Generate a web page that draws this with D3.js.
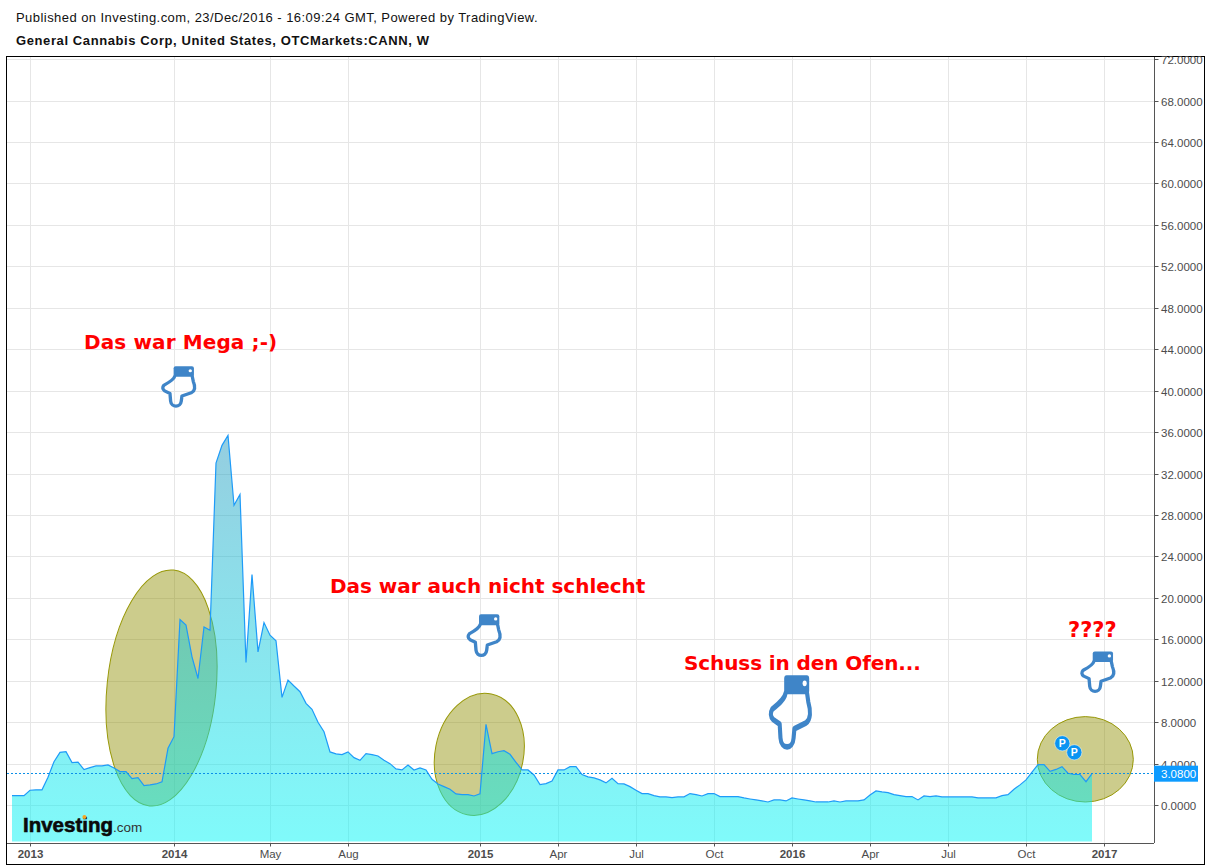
<!DOCTYPE html>
<html><head><meta charset="utf-8">
<script src="https://cdn.jsdelivr.net/npm/d3@7"></script>
<style>
html,body{margin:0;padding:0;background:#fff}
svg{display:block}
text{font-family:"Liberation Sans",Arial,sans-serif}
</style></head><body>
<svg id="c" width="1211" height="867"></svg>
<script>
const headerLine = "Published on Investing.com, 23/Dec/2016 - 16:09:24 GMT, Powered by TradingView.";
const titleLine = "General Cannabis Corp, United States, OTCMarkets:CANN, W";
const closes = [
0.96,0.96,0.96,1.48,1.52,1.52,2.73,4.24,5.14,5.2,4.15,4.2,3.47,3.66,3.83,3.83,3.92,3.63,3.28,3.28,
2.6,2.7,1.93,2.0,2.09,2.3,5.53,6.65,17.96,17.42,14.36,12.27,17.25,16.93,33.06,34.77,35.73,28.98,30.04,13.82,
22.3,14.84,17.67,16.45,15.9,10.45,12.12,11.54,10.99,9.87,9.29,8.04,7.13,5.18,5.0,4.92,5.18,4.63,4.37,5.01,
4.92,4.79,4.37,4.05,3.54,3.44,3.92,3.44,3.63,3.44,2.54,2.09,1.83,1.58,1.13,1.06,1.06,0.93,1.13,7.84,
5.01,5.2,5.3,4.95,4.18,3.44,3.44,2.96,2.02,2.12,2.38,3.44,3.44,3.76,3.76,2.99,2.77,2.67,2.48,2.19,
2.64,2.12,2.09,1.83,1.48,1.16,1.16,0.96,0.84,0.84,0.77,0.84,0.84,1.16,1.06,0.93,1.16,1.16,0.87,0.87,
0.87,0.87,0.74,0.64,0.55,0.45,0.35,0.55,0.55,0.45,0.74,0.64,0.55,0.45,0.35,0.35,0.35,0.45,0.35,0.45,
0.45,0.45,0.55,1.03,1.42,1.32,1.25,1.06,0.96,0.87,0.87,0.55,0.93,0.87,0.93,0.84,0.84,0.84,0.84,0.84,
0.84,0.74,0.74,0.74,0.74,0.96,1.06,1.58,2.0,2.48,3.22,3.95,3.95,3.3,3.49,3.76,3.12,3.0,3.0,2.31,3.08];
const lastPrice = 3.08;
const priceTicks = [72,68,64,60,56,52,48,44,40,36,32,28,24,20,16,12,8,4,0];
const timeTickIdx = [3,27,43,56,78,91,104,117,130,143,156,169,182];
const timeTickLabels = ["2013","2014","May","Aug","2015","Apr","Jul","Oct","2016","Apr","Jul","Oct","2017"];
const yearLabels = ["2013","2014","2015","2016","2017"];
const notes = [
 {t:"Das war Mega ;-)", x:84, y:349, s:20, ls:0.12},
 {t:"Das war auch nicht schlecht", x:330, y:593, s:20, ls:-0.04},
 {t:"Schuss in den Ofen...", x:684, y:670, s:20, ls:-0.1},
 {t:"????", x:1068, y:637, s:21, ls:0}
];
const ellipses = [
 {cx:161.5,cy:688,rx:54.5,ry:118.5,r:5.84},
 {cx:479.3,cy:754.3,rx:44.2,ry:61.6,r:11.3},
 {cx:1085.3,cy:759.3,rx:48,ry:42.7,r:0}
];
const hands = [
 {x:161.3,y:365.3,sx:0.333,sy:0.32},
 {x:466.7,y:613.3,sx:0.333,sy:0.33},
 {x:769,y:673.5,sx:0.41,sy:0.575},
 {x:1080.4,y:650.5,sx:0.333,sy:0.32}
];
const pins = [{x:1062.3,y:743.3},{x:1074.3,y:752.3}];

const svg = d3.select("#c");
const L=7,R=1154,T=57,B=843;
const x = d3.scaleLinear().domain([0,180]).range([12,1092]);
const y = d3.scaleLinear().domain([0,72]).range([805.6,59.6]);
const crisp = v => Math.floor(v)+.5;

const defs = svg.append("defs");
const grad = defs.append("linearGradient").attr("id","fillG").attr("gradientUnits","userSpaceOnUse")
 .attr("x1",0).attr("x2",0).attr("y1",y(d3.max(closes))).attr("y2",842);
grad.append("stop").attr("offset",0).attr("stop-color","#2a9cc0").attr("stop-opacity",0.5);
grad.append("stop").attr("offset",1).attr("stop-color","#00f6f6").attr("stop-opacity",0.5);

svg.append("rect").attr("x",6.5).attr("y",56.5).attr("width",1198).attr("height",808)
 .attr("fill","#fff").attr("stroke","#000");

svg.append("text").attr("x",16).attr("y",22).attr("font-size",13).attr("letter-spacing",0.445).attr("fill","#111").text(headerLine);
svg.append("text").attr("x",16).attr("y",45).attr("font-size",13).attr("font-weight","bold").attr("letter-spacing",0.6).attr("fill","#111").text(titleLine);

// grid
const g = svg.append("g");
g.selectAll("line.h").data(priceTicks).join("line").attr("class","h")
 .attr("x1",L).attr("x2",R).attr("y1",d=>crisp(y(d))).attr("y2",d=>crisp(y(d)))
 .attr("stroke","#e6e6e6");
g.selectAll("line.v").data(timeTickIdx).join("line").attr("class","v")
 .attr("x1",d=>x(d)+.5).attr("x2",d=>x(d)+.5).attr("y1",T).attr("y2",B)
 .attr("stroke","#e6e6e6");

// ellipses sit beneath the area
svg.selectAll("ellipse.e").data(ellipses).join("ellipse").attr("class","e")
 .attr("transform",d=>`translate(${d.cx},${d.cy}) rotate(${d.r})`)
 .attr("rx",d=>d.rx).attr("ry",d=>d.ry)
 .attr("fill","#8e8e00").attr("fill-opacity",0.45)
 .attr("stroke","#989808").attr("stroke-width",1);

// area + line
svg.append("path").datum(closes)
 .attr("d",d3.area().x((d,i)=>x(i)).y0(841.5).y1(d=>y(d)))
 .attr("fill","url(#fillG)");
svg.append("path").datum(closes)
 .attr("d",d3.line().x((d,i)=>x(i)).y(d=>y(d)))
 .attr("fill","none").attr("stroke","#1e9bf8").attr("stroke-width",1.2);

// last price line
svg.append("line").attr("x1",L).attr("x2",R)
 .attr("y1",crisp(y(lastPrice))).attr("y2",crisp(y(lastPrice)))
 .attr("stroke","#0a8fe8").attr("stroke-dasharray","2,2");

// axes
const ay = d3.axisRight(y).tickValues(priceTicks).tickFormat(d3.format(".4f")).tickSize(4).tickPadding(2.5);
const ax = d3.axisBottom(x).tickValues(timeTickIdx).tickFormat((d,i)=>timeTickLabels[i]).tickSize(3).tickPadding(3.5);
const gy = svg.append("g").attr("transform",`translate(${R+.5},0)`).call(ay);
const gx = svg.append("g").attr("transform",`translate(0,${B+.5})`).call(ax);
gy.select(".domain").attr("d",`M0,${T}V${B}`).attr("stroke","#555");
gx.select(".domain").attr("d",`M${L},0H${R}`).attr("stroke","#555");
gy.selectAll(".tick").attr("transform",d=>`translate(0,${crisp(y(d))})`);
gy.selectAll(".tick line").attr("stroke","#555");
gy.selectAll(".tick text").attr("dy","0.4em");
gx.selectAll(".tick line").attr("stroke","#555");
gy.selectAll("text").attr("fill","#4c4c4c").attr("font-size",11.5).attr("font-family",'"Liberation Sans",Arial,sans-serif');
gx.selectAll("text").attr("fill","#4c4c4c").attr("font-size",11.5).attr("font-family",'"Liberation Sans",Arial,sans-serif')
 .attr("font-weight",(d,i)=>yearLabels.includes(timeTickLabels[i])?"bold":"normal");

// price tag
svg.append("rect").attr("x",1154).attr("y",y(lastPrice)-8).attr("width",44).attr("height",16).attr("fill","#0d9bff");
svg.append("text").attr("x",1161).attr("y",y(lastPrice)+4).attr("font-size",11.5).attr("fill","#fff").text(d3.format(".4f")(lastPrice));

// hands
const handOutline = "M40,35 C38,45 20,55 8,62 C3,68 3,75 10,80 L26,88 L28,112 C30,133 58,133 60,112 L62,96 L90,86 C102,80 102,65 96,50 L93,35";
const hg = svg.selectAll("g.hand").data(hands).join("g").attr("class","hand")
 .attr("transform",d=>`translate(${d.x},${d.y}) scale(${d.sx},${d.sy})`);
hg.append("rect").attr("x",37).attr("y",3).attr("width",61).attr("height",33).attr("rx",6).attr("fill","#3f85c8");
hg.append("circle").attr("cx",87).attr("cy",17).attr("r",5).attr("fill","#fff");
hg.append("path").attr("d",handOutline).attr("fill","none").attr("stroke","#3f85c8")
 .attr("stroke-width",10).attr("stroke-linejoin","round").attr("stroke-linecap","round");

// pins
const pg = svg.selectAll("g.pin").data(pins).join("g").attr("transform",d=>`translate(${d.x},${d.y})`);
pg.append("circle").attr("r",7.6).attr("fill","#0a94f2").attr("stroke","#fff").attr("stroke-width",0.5);
pg.append("text").attr("text-anchor","middle").attr("y",3.8).attr("font-size",10.5).attr("font-weight","bold").attr("fill","#fff").text("P");

// notes
svg.selectAll("text.n").data(notes).join("text").attr("class","n")
 .attr("x",d=>d.x).attr("y",d=>d.y).attr("fill","#ff0000").attr("letter-spacing",d=>d.ls)
 .style("font-family",'"DejaVu Sans",Verdana,sans-serif').style("font-weight","bold").style("font-size",d=>d.s+"px")
 .text(d=>d.t);

// logo
const logo = svg.append("text").attr("x",23).attr("y",832);
logo.append("tspan").attr("font-size",20.5).attr("font-weight","bold").attr("fill","#0a0a0a").attr("stroke","#0a0a0a").attr("stroke-width",0.6).text("Investing");
logo.append("tspan").attr("font-size",13.5).attr("fill","#333").text(".com");
svg.append("circle").attr("cx",84.4).attr("cy",817).attr("r",2).attr("fill","#f5a623");
</script>
</body></html>
